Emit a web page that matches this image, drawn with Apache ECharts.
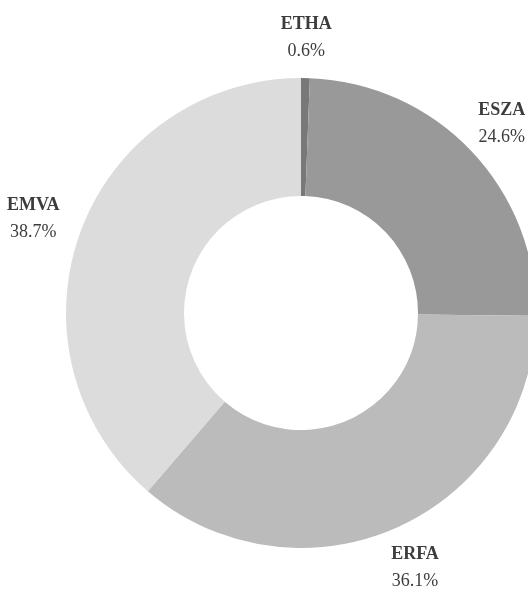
<!DOCTYPE html>
<html>
<head>
<meta charset="utf-8">
<script src="https://cdn.jsdelivr.net/npm/echarts@6/dist/echarts.min.js"></script>
<style>
html,body{margin:0;padding:0;background:#fff;}
#chart{width:528px;height:590px;}
</style>
</head>
<body>
<div id="chart"></div>
<script>
var categories = ['ETHA', 'ESZA', 'ERFA', 'EMVA'];
var shares = [0.6, 24.6, 36.1, 38.7];
var colors = ['#787878', '#999999', '#bbbbbb', '#dcdcdc'];

var data = categories.map(function (c, i) {
  return { name: c, value: shares[i], itemStyle: { color: colors[i] } };
});
var labelData = categories.map(function (c, i) {
  var d = { name: c, value: shares[i] };
  if (c === 'EMVA') { d.label = { offset: [-8, 0] }; }
  return d;
});

var chart = echarts.init(document.getElementById('chart'), null, { renderer: 'canvas' });
chart.setOption({
  animation: false,
  backgroundColor: '#ffffff',
  series: [
    {
      type: 'pie',
      center: [301, 313],
      radius: [117, 235],
      startAngle: 90,
      clockwise: true,
      avoidLabelOverlap: false,
      label: { show: false },
      labelLine: { show: false },
      emphasis: { disabled: true },
      data: data
    },
    {
      type: 'pie',
      center: [301, 315],
      radius: [267, 281],
      startAngle: 90,
      clockwise: true,
      silent: true,
      avoidLabelOverlap: false,
      itemStyle: { color: 'rgba(0,0,0,0)' },
      labelLine: { show: false },
      emphasis: { disabled: true },
      label: {
        show: true,
        position: 'inside',
        formatter: function (p) {
          return '{n|' + p.name + '}\n{v|' + p.value.toFixed(1) + '%}';
        },
        rich: {
          n: { fontFamily: 'Liberation Serif', fontSize: 18, fontWeight: 'bold', color: '#3c3c3c', lineHeight: 27, align: 'center' },
          v: { fontFamily: 'Liberation Serif', fontSize: 18, color: '#3c3c3c', lineHeight: 27, align: 'center' }
        }
      },
      data: labelData
    }
  ]
});
</script>
</body>
</html>
